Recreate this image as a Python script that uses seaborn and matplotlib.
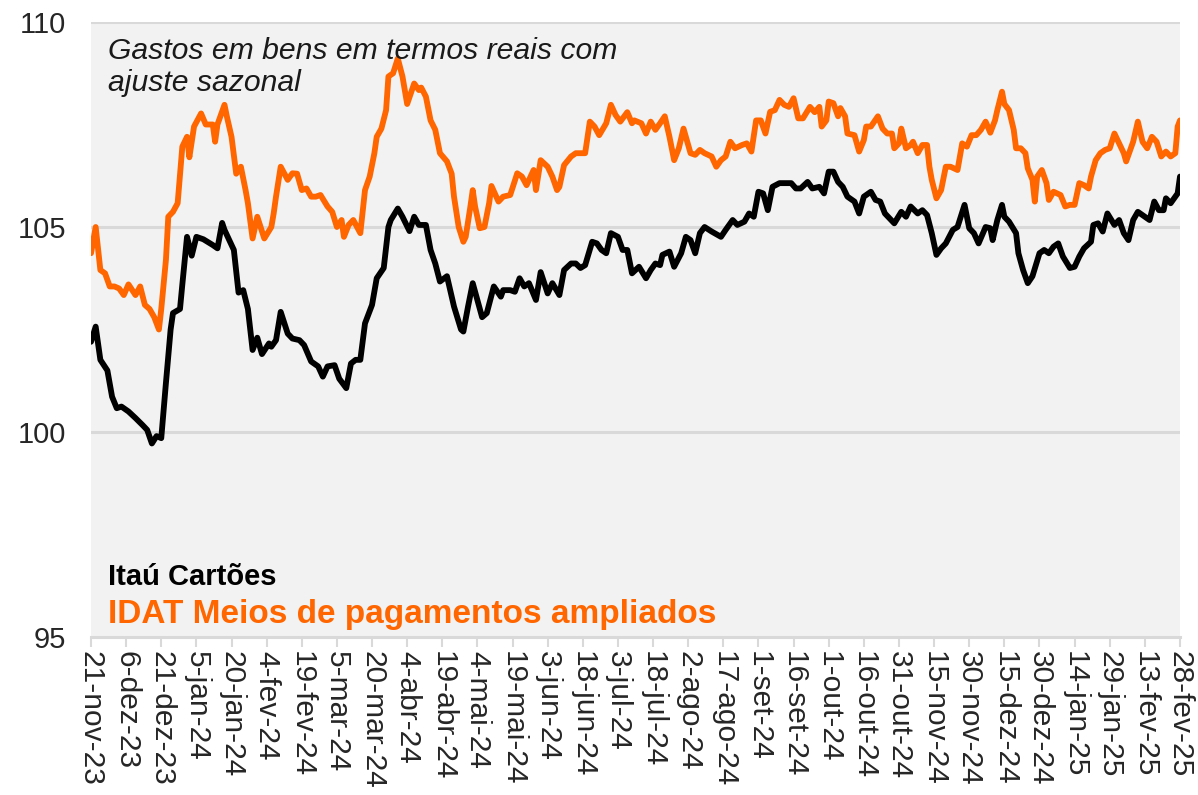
import pandas as pd
import numpy as np
import matplotlib
matplotlib.use("Agg")
import matplotlib.pyplot as plt
import seaborn as sns

# Dados (dias contados a partir de 21-nov-23)
inicio = pd.Timestamp("2023-11-21")

itau_dias = [0, 2, 4, 7, 9, 11, 13, 16, 19, 22, 24, 26, 28, 30, 32, 34, 35, 38, 39, 41,
             43, 45, 48, 52, 54, 56, 57, 61, 63, 65, 67, 69, 71, 73, 76, 77, 79, 81, 84, 86,
             89, 91, 94, 97, 99, 101, 104, 106, 109, 111, 113, 115, 117, 120, 122, 125, 127, 128, 131, 133,
             136, 138, 140, 143, 145, 147, 149, 152, 154, 155, 158, 159, 161, 163, 165, 167, 169, 172, 175, 176,
             179, 181, 183, 185, 187, 190, 192, 195, 197, 200, 202, 205, 207, 209, 211, 214, 216, 218, 220, 222,
             225, 227, 229, 231, 234, 237, 239, 241, 243, 244, 247, 249, 252, 254, 256, 258, 260, 262, 265, 269,
             271, 274, 276, 279, 281, 283, 285, 287, 289, 291, 294, 296, 299, 301, 303, 306, 308, 311, 313, 315,
             317, 319, 321, 323, 326, 328, 330, 333, 335, 337, 339, 341, 343, 346, 348, 350, 353, 355, 357, 359,
             361, 363, 365, 368, 370, 373, 375, 377, 379, 382, 384, 385, 387, 389, 390, 392, 395, 396, 398, 400,
             402, 405, 407, 409, 411, 413, 415, 418, 420, 422, 424, 427, 428, 430, 432, 434, 437, 439, 441, 443,
             445, 447, 449, 452, 454, 456, 458, 459, 461, 464, 465]
itau_valores = [102.2, 102.57, 101.76, 101.5, 100.86, 100.58, 100.62, 100.5, 100.34, 100.17, 100.05, 99.72, 99.9, 99.85, 101.2, 102.5, 102.9, 103.0, 103.6, 104.76,
                104.3, 104.76, 104.7, 104.56, 104.48, 105.1, 104.93, 104.44, 103.4, 103.46, 103.0, 102.0, 102.3, 101.9, 102.16, 102.08, 102.24, 102.93, 102.4, 102.28,
                102.24, 102.12, 101.72, 101.6, 101.35, 101.6, 101.63, 101.3, 101.07, 101.67, 101.76, 101.76, 102.65, 103.1, 103.75, 104.0, 105.0, 105.17, 105.45, 105.25,
                104.9, 105.25, 105.05, 105.05, 104.44, 104.11, 103.67, 103.8, 103.3, 103.06, 102.5, 102.45, 103.06, 103.63, 103.22, 102.8, 102.9, 103.55, 103.3, 103.46,
                103.46, 103.42, 103.75, 103.55, 103.63, 103.22, 103.9, 103.38, 103.63, 103.34, 103.95, 104.11, 104.11, 104.0, 104.07, 104.64, 104.6, 104.44, 104.36, 104.85,
                104.76, 104.44, 104.44, 103.87, 104.03, 103.75, 103.95, 104.11, 104.07, 104.32, 104.4, 104.03, 104.36, 104.76, 104.68, 104.36, 104.85, 105.0, 104.89, 104.76,
                104.93, 105.17, 105.05, 105.13, 105.33, 105.25, 105.86, 105.82, 105.41, 105.98, 106.07, 106.07, 106.07, 105.94, 105.94, 106.1, 105.94, 105.98, 105.82, 106.35,
                106.35, 106.1, 105.98, 105.74, 105.62, 105.33, 105.74, 105.86, 105.66, 105.62, 105.33, 105.21, 105.09, 105.37, 105.25, 105.5, 105.33, 105.41, 105.29, 104.85,
                104.32, 104.48, 104.6, 104.93, 105.0, 105.54, 104.97, 104.85, 104.6, 105.0, 104.97, 104.68, 105.17, 105.54, 105.25, 105.13, 104.85, 104.36, 103.95, 103.63,
                103.8, 104.36, 104.44, 104.36, 104.52, 104.6, 104.28, 104.0, 104.03, 104.28, 104.48, 104.64, 105.05, 105.09, 104.89, 105.33, 105.05, 105.17, 104.85, 104.68,
                105.17, 105.37, 105.29, 105.17, 105.62, 105.41, 105.41, 105.7, 105.58, 105.82, 106.23]

idat_dias = [0, 2, 4, 6, 8, 10, 12, 14, 16, 19, 21, 23, 25, 27, 29, 30, 32, 33, 35, 37,
             39, 41, 42, 44, 47, 49, 52, 53, 54, 57, 58, 60, 62, 64, 66, 67, 69, 71, 74, 77,
             78, 79, 81, 84, 86, 88, 90, 92, 94, 96, 98, 101, 103, 105, 107, 108, 110, 112, 115, 117,
             119, 121, 122, 124, 126, 127, 129, 131, 133, 135, 138, 140, 141, 143, 145, 147, 149, 152, 154, 155,
             157, 159, 160, 162, 163, 164, 166, 168, 170, 171, 174, 176, 179, 182, 184, 186, 189, 190, 192, 195,
             197, 199, 200, 202, 205, 207, 209, 211, 213, 215, 217, 220, 222, 224, 226, 229, 231, 232, 235, 237,
             239, 241, 243, 245, 247, 249, 251, 253, 256, 258, 260, 262, 265, 267, 269, 271, 273, 275, 278, 280,
             282, 284, 286, 288, 290, 292, 294, 296, 298, 300, 302, 304, 307, 309, 311, 312, 314, 315, 317, 319,
             320, 322, 323, 326, 328, 330, 331, 333, 336, 338, 340, 342, 343, 345, 346, 348, 350, 351, 353, 355,
             357, 358, 359, 361, 363, 365, 367, 370, 372, 374, 376, 378, 380, 382, 384, 386, 387, 389, 390, 392,
             394, 395, 397, 399, 400, 402, 403, 404, 406, 408, 409, 411, 414, 416, 418, 420, 422, 424, 426, 427,
             429, 431, 433, 435, 437, 439, 441, 442, 445, 447, 449, 451, 453, 455, 457, 459, 461, 463, 464, 465]
idat_valores = [104.36, 105.0, 103.95, 103.87, 103.55, 103.55, 103.5, 103.34, 103.6, 103.34, 103.55, 103.1, 103.0, 102.8, 102.5, 103.0, 104.2, 105.25, 105.37, 105.58,
                106.96, 107.2, 106.7, 107.45, 107.77, 107.5, 107.5, 107.08, 107.5, 107.98, 107.7, 107.2, 106.3, 106.47, 105.9, 105.58, 104.72, 105.25, 104.72, 105.0,
                105.33, 105.74, 106.47, 106.15, 106.31, 106.3, 105.9, 105.94, 105.74, 105.74, 105.78, 105.5, 105.37, 105.0, 105.17, 104.76, 105.05, 105.17, 104.85, 105.9,
                106.23, 106.8, 107.2, 107.4, 107.85, 108.67, 108.75, 109.11, 108.67, 108.0, 108.5, 108.34, 108.4, 108.18, 107.6, 107.37, 106.8, 106.6, 106.3, 105.74,
                105.0, 104.64, 104.76, 105.5, 105.9, 105.5, 104.97, 105.0, 105.58, 106.0, 105.62, 105.74, 105.78, 106.31, 106.23, 106.02, 106.39, 105.9, 106.63, 106.47,
                106.23, 105.9, 105.98, 106.51, 106.72, 106.8, 106.8, 106.8, 107.57, 107.45, 107.24, 107.53, 107.98, 107.73, 107.57, 107.8, 107.53, 107.6, 107.53, 107.28,
                107.57, 107.37, 107.53, 107.7, 107.2, 106.63, 106.92, 107.4, 106.8, 106.76, 106.88, 106.8, 106.72, 106.47, 106.63, 106.72, 107.08, 106.92, 107.0, 107.04,
                106.84, 107.6, 107.6, 107.28, 107.81, 107.85, 108.1, 107.98, 107.93, 108.14, 107.65, 107.65, 107.93, 107.8, 107.93, 107.45, 107.6, 108.06, 108.02, 107.7,
                107.9, 107.7, 107.28, 107.24, 106.84, 107.12, 107.45, 107.45, 107.7, 107.4, 107.28, 107.28, 106.92, 107.04, 107.4, 106.92, 107.0, 107.08, 106.8, 107.0,
                107.0, 106.47, 106.15, 105.7, 105.9, 106.47, 106.47, 106.39, 107.04, 106.96, 107.24, 107.24, 107.37, 107.57, 107.3, 107.6, 107.85, 108.3, 108.0, 107.85,
                107.37, 106.92, 106.92, 106.8, 106.43, 106.15, 105.62, 106.23, 106.39, 106.07, 105.66, 105.86, 105.78, 105.5, 105.54, 105.54, 106.07, 106.02, 105.94, 106.23,
                106.63, 106.8, 106.88, 106.92, 107.28, 107.04, 106.8, 106.6, 107.08, 107.57, 107.08, 106.92, 107.2, 107.08, 106.72, 106.84, 106.72, 106.8, 107.45, 107.6]

meses = ["jan", "fev", "mar", "abr", "mai", "jun", "jul", "ago", "set", "out", "nov", "dez"]
ticks_y = [95, 100, 105, 110]

cor_itau = "#000000"
cor_idat = "#FF6600"

df_itau = pd.DataFrame({"data": inicio + pd.to_timedelta(itau_dias, unit="D"), "valor": itau_valores})
df_idat = pd.DataFrame({"data": inicio + pd.to_timedelta(idat_dias, unit="D"), "valor": idat_valores})

sns.set_style("white", {"axes.facecolor": "#f2f2f2"})
plt.rcParams["font.family"] = ["Liberation Sans", "DejaVu Sans"]

fig = plt.figure(figsize=(11.98, 7.95), dpi=100)
ax = fig.add_axes([91 / 1198, 1 - 637 / 795, (1180 - 91) / 1198, (637 - 22) / 795])

for y in ticks_y[1:]:
    ax.axhline(y, color="#d9d9d9", lw=2.2, zorder=1)

sns.lineplot(data=df_idat, x="data", y="valor", color=cor_idat, lw=4.2, ax=ax, zorder=3)
sns.lineplot(data=df_itau, x="data", y="valor", color=cor_itau, lw=4.2, ax=ax, zorder=4)

fim = inicio + pd.Timedelta(days=465)
ax.set_xlim(inicio, fim)
ax.set_ylim(95, 110)

datas_ticks = pd.date_range(inicio, fim, freq="15D")
ax.set_xticks(datas_ticks)
ax.set_xticklabels([f"{d.day}-{meses[d.month - 1]}-{d.strftime('%y')}" for d in datas_ticks],
                   rotation=-90, fontsize=21.5)
ax.set_yticks(ticks_y)
ax.set_yticklabels([str(t) for t in ticks_y], fontsize=21)
ax.tick_params(axis="x", length=7, width=1.5, color="#d9d9d9", pad=3, bottom=True)
ax.tick_params(axis="y", length=0, pad=18)
ax.set_xlabel("")
ax.set_ylabel("")

for lado in ["top", "right", "left"]:
    ax.spines[lado].set_visible(False)
ax.spines["bottom"].set_color("#d9d9d9")
ax.spines["bottom"].set_linewidth(2.2)

ax.text(0.0156, 0.975, "Gastos em bens em termos reais com\najuste sazonal", transform=ax.transAxes,
        fontsize=21.7, style="italic", va="top", ha="left", linespacing=1.15, color="#1a1a1a")
ax.text(0.0156, 0.085, "Itaú Cartões", transform=ax.transAxes, fontsize=21, weight="bold",
        color=cor_itau, va="baseline", ha="left")
ax.text(0.0156, 0.023, "IDAT Meios de pagamentos ampliados", transform=ax.transAxes, fontsize=24,
        weight="bold", color=cor_idat, va="baseline", ha="left")

fig.savefig("out.png", dpi=100, facecolor="white")
